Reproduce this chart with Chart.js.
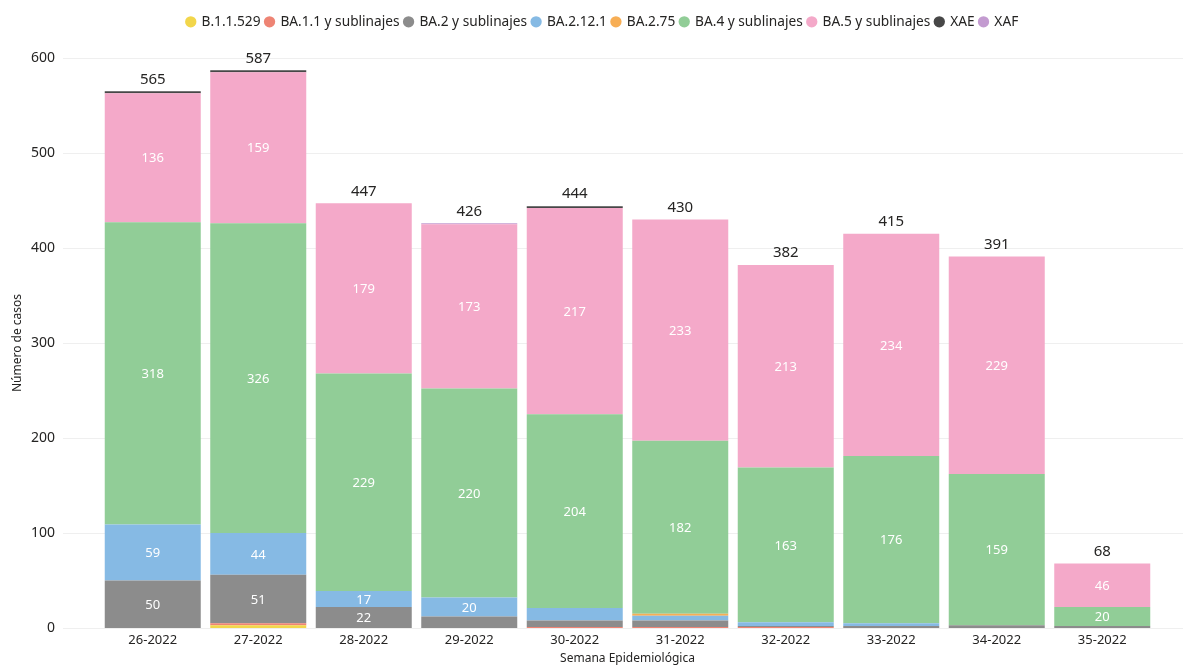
<!DOCTYPE html>
<html>
<head>
<meta charset="utf-8">
<script src="https://cdn.jsdelivr.net/npm/chart.js@4.4.0/dist/chart.umd.min.js"></script>
<style>
html,body{margin:0;padding:0;background:#fff;}
#wrap{width:1183px;height:666px;position:relative;}
</style>
</head>
<body>
<div id="wrap"><canvas id="c" width="1183" height="666"></canvas></div>
<script>
const categories = ["26-2022","27-2022","28-2022","29-2022","30-2022","31-2022","32-2022","33-2022","34-2022","35-2022"];
const seriesNames = ["B.1.1.529","BA.1.1 y sublinajes","BA.2 y sublinajes","BA.2.12.1","BA.2.75","BA.4 y sublinajes","BA.5 y sublinajes","XAE","XAF"];
const B11529  = [0,3,0,0,0,0,0,0,0,0];
const BA11    = [0,2,0,0,1,1,1,0,0,0];
const BA2     = [50,51,22,12,7,7,1,2,3,2];
const BA2121  = [59,44,17,20,13,5,4,3,0,0];
const BA275   = [0,0,0,0,0,2,0,0,0,0];
const BA4     = [318,326,229,220,204,182,163,176,159,20];
const BA5     = [136,159,179,173,217,233,213,234,229,46];
const XAE     = [2,2,0,0,2,0,0,0,0,0];
const XAF     = [0,0,0,1,0,0,0,0,0,0];
const yTicks  = [0,100,200,300,400,500,600];

const seriesValues = [B11529,BA11,BA2,BA2121,BA275,BA4,BA5,XAE,XAF];
const colors = ["#F2D64B","#EE8474","#8C8C8C","#86BAE4","#F7AE55","#91CD97","#F4A9C9","#474747","#C39BD0"];

const FONT = "'Noto Sans', 'Open Sans', sans-serif";

const gridPlugin = {
  id:'gridExt',
  beforeDatasetsDraw(chart){
    const ctx = chart.ctx, y = chart.scales.y;
    ctx.save();
    ctx.strokeStyle = '#EFEFEF';
    ctx.lineWidth = 1;
    yTicks.forEach(t=>{
      const py = Math.round(y.getPixelForValue(t))+0.5;
      ctx.beginPath(); ctx.moveTo(63,py); ctx.lineTo(1183,py); ctx.stroke();
    });
    ctx.restore();
  }
};

const legendPos = {
  id:'legendPos',
  afterLayout(chart){
    const l = chart.legend;
    if (!l) return;
    const h = l.bottom - l.top;
    l.top = 10; l.bottom = 10 + h;
    l.left = 22; l.right = 1183;
  }
};

const labelPlugin = {
  id:'labels',
  afterDatasetsDraw(chart){
    const ctx = chart.ctx, y = chart.scales.y;
    ctx.save();
    ctx.textAlign='center'; ctx.textBaseline='middle';
    chart.data.datasets.forEach((ds,di)=>{
      const meta = chart.getDatasetMeta(di);
      meta.data.forEach((bar,i)=>{
        const v = ds.data[i];
        if (v >= 15){
          ctx.fillStyle = '#FFFFFF';
          ctx.font = "13px " + FONT;
          ctx.fillText(String(v), bar.x, (bar.y + bar.base)/2 + 1);
        }
      });
    });
    categories.forEach((c,i)=>{
      let tot = 0;
      seriesValues.forEach(s=>tot+=s[i]);
      const bar = chart.getDatasetMeta(0).data[i];
      ctx.fillStyle = '#252423';
      ctx.font = "15px " + FONT;
      ctx.fillText(String(tot), bar.x, y.getPixelForValue(tot) - 12);
    });
    ctx.restore();
  }
};

new Chart(document.getElementById('c'), {
  type:'bar',
  data:{
    labels: categories,
    datasets: seriesNames.map((n,k)=>({
      label:n, data:seriesValues[k], backgroundColor:colors[k],
      borderWidth:0, categoryPercentage:1.0, barPercentage:0.91
    }))
  },
  options:{
    responsive:false, animation:false,
    layout:{padding:{top:2,right:28,left:0,bottom:0}},
    plugins:{
      legend:{
        position:'top',
        labels:{usePointStyle:true, pointStyle:'circle', boxWidth:8, boxHeight:8, padding:5,
          color:'#252423', font:{family:FONT, size:13.7}}
      },
      tooltip:{enabled:false}
    },
    scales:{
      x:{
        stacked:true,
        grid:{display:false, drawTicks:false},
        border:{display:false},
        ticks:{color:'#252423', font:{family:FONT, size:13}, padding:4},
        title:{display:true, text:'Semana Epidemiológica', color:'#252423', font:{family:FONT, size:12}, padding:{top:0,bottom:0}},
        afterFit(ax){ ax.height = 38; ax.paddingLeft = 0; ax.paddingRight = 0; }
      },
      y:{
        stacked:true, min:0, max:600,
        afterBuildTicks(ax){ ax.ticks = yTicks.map(v=>({value:v})); },
        grid:{display:false, drawTicks:false},
        border:{display:false},
        ticks:{color:'#252423', font:{family:FONT, size:14}, padding:45},
        title:{display:true, text:'Número de casos', color:'#252423', font:{family:FONT, size:12}, padding:{top:10,bottom:0}},
        afterFit(ax){ ax.width = 100; ax.paddingTop = 58; ax.paddingBottom = 0; }
      }
    }
  },
  plugins:[gridPlugin,legendPos,labelPlugin]
});
</script>
</body>
</html>
